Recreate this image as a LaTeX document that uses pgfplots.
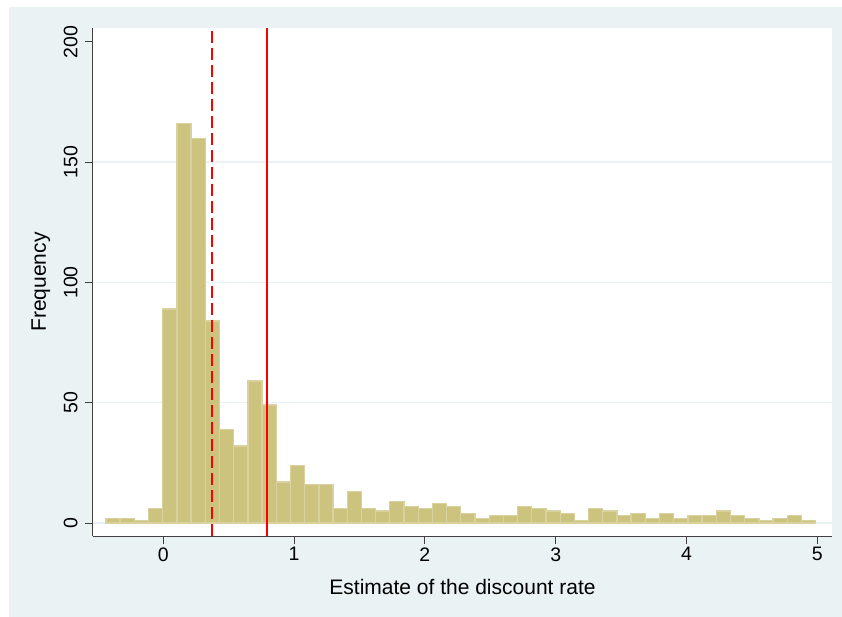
\documentclass[border=0pt]{standalone}
\usepackage{pgfplots}
\pgfplotsset{compat=1.18}
\usepackage{fontspec}
\setmainfont{Liberation Sans}
\definecolor{bgc}{HTML}{EAF2F3}
\definecolor{barfill}{HTML}{CBC37E}
\definecolor{baredge}{HTML}{D9D29E}
\definecolor{gridc}{HTML}{EAF2F3}
\definecolor{axc}{HTML}{404040}
\begin{document}
\begin{tikzpicture}
\path[use as bounding box] (-93bp,-81bp) rectangle (749bp,536bp);
\fill[bgc] (-84bp,-81bp) rectangle (749bp,529bp);
\begin{axis}[
  at={(0,0)}, anchor=south west,
  scale only axis, width=739bp, height=508bp,
  xmin=-0.537, xmax=5.112, ymin=-5.4, ymax=205.8,
  axis x line*=bottom, axis y line*=left,
  axis line style={-, draw=axc, line width=1bp},
  axis background/.style={fill=white},
  tick align=outside, major tick length=8bp,
  tick style={draw=axc, line width=1bp},
  xtick={0,1,2,3,4,5}, ytick={0,50,100,150,200},
  minor tick num=0,
  /pgf/number format/assume math mode=true,
  ticklabel style={font=\fontsize{19.5bp}{22bp}\selectfont},
  yticklabel style={rotate=90, anchor=south},
  yticklabel shift=4bp,
  xlabel={Estimate of the discount rate},
  ylabel={Frequency},
  label style={font=\fontsize{21bp}{24bp}\selectfont},
  xlabel style={at={(axis description cs:0.5,0)}, anchor=base, yshift=-58bp},
  ylabel style={at={(axis description cs:-0.0636,0.5)}, anchor=base},
  clip=true,
]
\addplot[gridc, line width=1.5bp, forget plot] coordinates {(-0.537,0) (5.112,0)};
\addplot[gridc, line width=1.5bp, forget plot] coordinates {(-0.537,50) (5.112,50)};
\addplot[gridc, line width=1.5bp, forget plot] coordinates {(-0.537,100) (5.112,100)};
\addplot[gridc, line width=1.5bp, forget plot] coordinates {(-0.537,150) (5.112,150)};
\addplot[ybar interval, fill=barfill, draw=baredge, line width=1.3bp] coordinates {
(-0.438,2) (-0.3295,2) (-0.221,1) (-0.1125,6) (-0.004,89) (0.1045,166) (0.213,160) (0.3215,84)
(0.430,39) (0.5385,32) (0.647,59) (0.7555,49) (0.864,17) (0.9725,24) (1.081,16) (1.1895,16)
(1.298,6) (1.4065,13) (1.515,6) (1.6235,5) (1.732,9) (1.8405,7) (1.949,6) (2.0575,8)
(2.166,7) (2.2745,4) (2.383,2) (2.4915,3) (2.600,3) (2.7085,7) (2.817,6) (2.9255,5)
(3.034,4) (3.1425,1) (3.251,6) (3.3595,5) (3.468,3) (3.5765,4) (3.685,2) (3.7935,4)
(3.902,2) (4.0105,3) (4.119,3) (4.2275,5) (4.336,3) (4.4445,2) (4.553,1) (4.6615,2)
(4.770,3) (4.8785,1) (4.987,1)
};
\addplot[red, line width=2bp, dash pattern=on 12bp off 5bp] coordinates {(0.372,-5.4) (0.372,205.8)};
\addplot[red, line width=2bp] coordinates {(0.79,-5.4) (0.79,205.8)};
\end{axis}
\end{tikzpicture}
\end{document}
